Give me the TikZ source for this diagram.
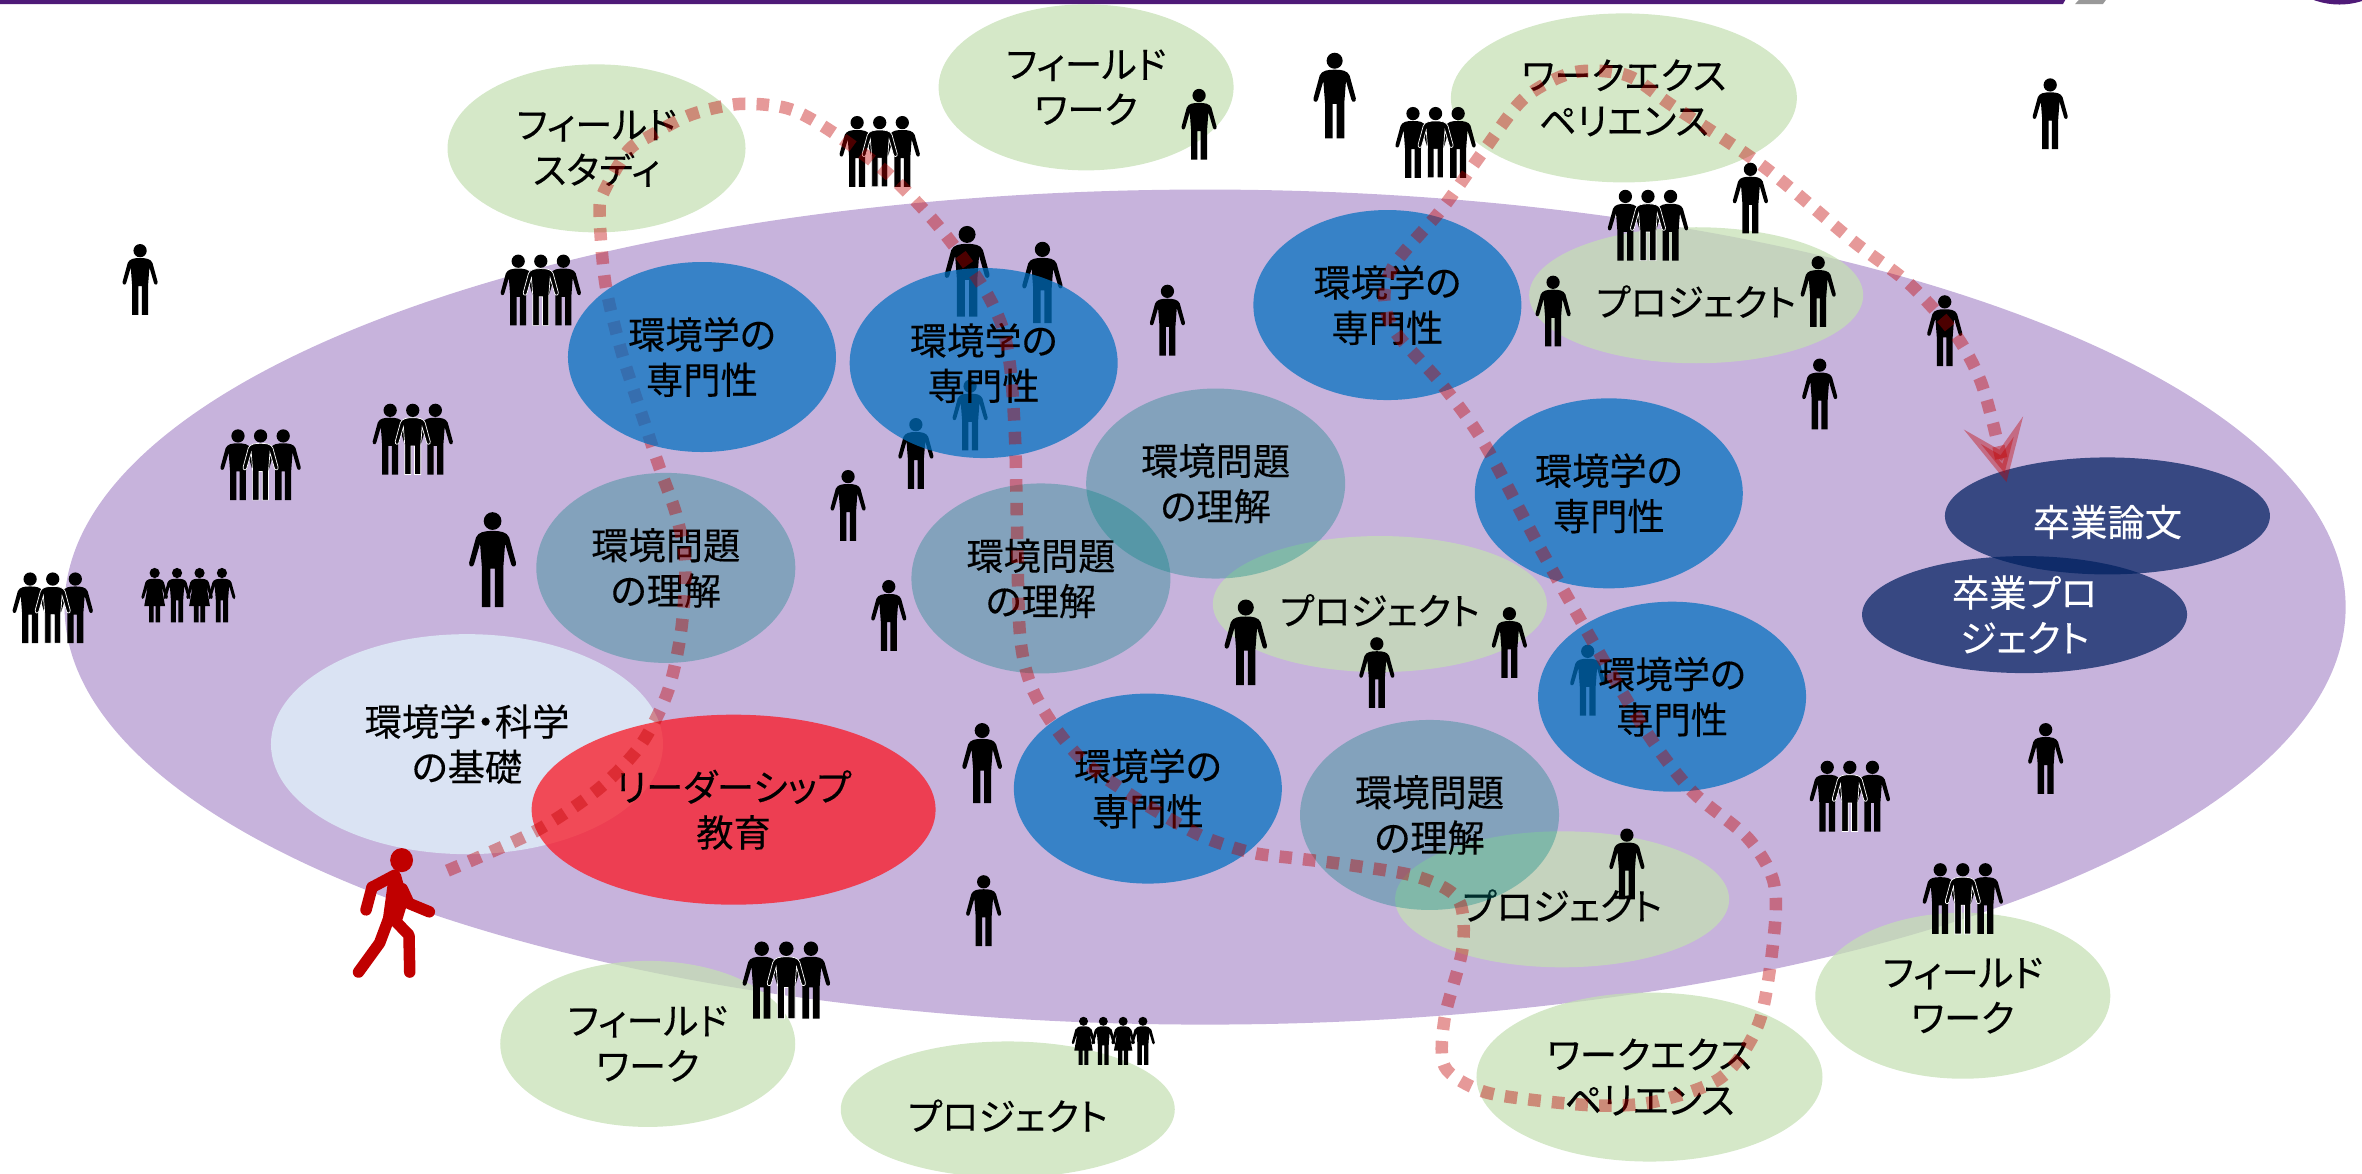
\documentclass[tikz,border=0pt]{standalone}
\usepackage{fontspec}
\setmainfont{Noto Sans CJK JP}[RawFeature={+palt;embolden=0.25}]
\usetikzlibrary{shapes.geometric, arrows.meta}
\definecolor{topbar}{HTML}{4F1A78}
\definecolor{fieldpurple}{HTML}{C7B3DC}
\definecolor{activitygreen}{HTML}{C5E0B4}
\definecolor{expertblue}{HTML}{0070C0}
\definecolor{issueteal}{HTML}{008481}
\definecolor{basicslight}{HTML}{DAE3F3}
\definecolor{leaderred}{HTML}{FA1824}
\definecolor{thesisnavy}{HTML}{002060}
\definecolor{routered}{HTML}{C00000}
\tikzset{
  bubble/.style={ellipse, inner sep=0pt, align=center, text=black, text opacity=1,
    font=\fontsize{10.6pt}{12.9pt}\selectfont, execute at begin node={\rule{0pt}{12.4pt}}},
  greenbubble/.style={bubble, fill=activitygreen, fill opacity=.73},
  fieldwork/.style={greenbubble, minimum width=2.95cm, minimum height=1.66cm},
  workexp/.style={greenbubble, minimum width=3.46cm, minimum height=1.69cm},
  projectbub/.style={greenbubble, minimum width=3.34cm, minimum height=1.36cm},
  expert/.style={bubble, fill=expertblue, fill opacity=.72, minimum width=2.68cm, minimum height=1.9cm},
  issue/.style={bubble, fill=issueteal, fill opacity=.34, minimum width=2.59cm, minimum height=1.9cm},
  thesis/.style={bubble, fill=thesisnavy, fill opacity=.72, text=white, minimum width=3.25cm, minimum height=1.17cm},
  route/.style={line width=.125cm, routered, opacity=.4, dash pattern=on .125cm off .112cm,
    -{Stealth[length=.6cm, width=.6cm, inset=.27cm]}},
  limb/.style={line width=.115cm, routered, line cap=round, line join=round},
  manedge/.style={},
  man/.pic={
    \fill (0,4.4) circle (4.4);
    \path[fill=black, manedge] (0,9.3) .. controls (4,9.3) and (7,9.8) .. (8.2,12.5) -- (11.6,25) .. controls (12,27.2) and (9.6,27.6) .. (9.2,25.8) -- (6.2,15.5) -- (5.3,27.5) -- (5.3,47) -- (1.1,47) -- (1.1,28) -- (-1.1,28) -- (-1.1,47) -- (-5.3,47) -- (-5.3,27.5) -- (-6.2,15.5) -- (-9.2,25.8) .. controls (-9.6,27.6) and (-12,27.2) .. (-11.6,25) -- (-8.2,12.5) .. controls (-7,9.8) and (-4,9.3) .. (0,9.3) -- cycle;
  },
  woman/.pic={
    \fill (0,4.4) circle (4.4);
    \path[fill=black, manedge] (0,9.3) .. controls (4,9.3) and (7,9.8) .. (8,12.5) -- (11.4,25) .. controls (11.8,27) and (9.6,27.4) .. (9.2,25.8) -- (6,16) -- (9,33) -- (4.8,33) -- (4.8,47) -- (0.8,47) -- (0.8,33) -- (-0.8,33) -- (-0.8,47) -- (-4.8,47) -- (-4.8,33) -- (-9,33) -- (-6,16) -- (-9.2,25.8) .. controls (-9.6,27.4) and (-11.8,27) .. (-11.4,25) -- (-8,12.5) .. controls (-7,9.8) and (-4,9.3) .. (0,9.3) -- cycle;
  },
  trio/.pic={
    \pic[transform shape] at (-15,0) {man};
    \pic[transform shape] at (15,0) {man};
    \begin{scope}[manedge/.style={draw=white, line width=.2pt}]
      \pic[transform shape] at (0,0) {man};
    \end{scope}
  },
  family/.pic={
    \pic[transform shape] at (29,0) {man};
    \pic[transform shape] at (-29,0) {woman};
    \pic[transform shape] at (9.7,0) {woman};
    \pic[transform shape] at (-9.7,0) {man};
  },
}

\begin{document}
\begin{tikzpicture}[x=.15064mm, y=-.15064mm]
    \useasboundingbox (0,0) rectangle (1568,779.3);

    % Header strip
    \begin{scope}
        \clip (0,0) rectangle (1568,779.3);
        \fill[topbar] (0,0) -- (1371,0) -- (1369.5,2.7) -- (0,2.7) -- cycle;
        \fill[gray!80] (1380,0) -- (1398,0) -- (1396,2.7) -- (1377.5,2.7) -- cycle;
        \fill[topbar] (1553,-46.7) circle (49.7);
    \end{scope}

    % Big field
    \node[ellipse, inner sep=0pt, fill=fieldpurple, minimum width=22.81cm, minimum height=8.35cm] (field) at (800,403) {};

    % People behind the bubbles
    \pic at (642,150) [scale=1.28] {man};
    \pic at (692,160.5) [scale=1.15] {man};
    \pic at (644,252) {man};
    \pic at (608,277.5) {man};
    \pic at (1054,428) {man};

    % Green bubbles
    \node[fieldwork, minimum width=2.98cm, minimum height=1.68cm] (study) at (396,98.5) {フィールド\\スタディ};
    \node[fieldwork] (worktop) at (721,58) {フィールド\\ワーク};
    \node[workexp] (exptop) at (1078,65) {ワークエクス\\ペリエンス};
    \node[projectbub] (projright) at (1126,196) {プロジェクト};
    \node[projectbub] (projmid) at (916,401) {プロジェクト};
    \node[projectbub] (projlow) at (1037,597) {プロジェクト};
    \node[fieldwork] (workleft) at (430,693) {フィールド\\ワーク};
    \node[projectbub] (projbot) at (669,736.5) {プロジェクト};
    \node[workexp] (expbot) at (1095,715) {ワークエクス\\ペリエンス};
    \node[fieldwork] (workright) at (1303,661) {フィールド\\ワーク};

    % Basics and leadership
    \node[bubble, fill=basicslight, minimum width=3.92cm, minimum height=2.2cm] (basics) at (310,494) {環境学・科学\\の基礎};
    \node[bubble, fill=leaderred, fill opacity=.75, minimum width=4.04cm, minimum height=1.9cm] (leader) at (487,537.5) {リーダーシップ\\教育};

    % Issue bubbles
    \node[issue] (issue1) at (442,377) {環境問題\\の理解};
    \node[issue] (issue2) at (691,384) {環境問題\\の理解};
    \node[issue] (issue3) at (807,321) {環境問題\\の理解};
    \node[issue] (issue4) at (949,541) {環境問題\\の理解};

    % Expert bubbles
    \node[expert] (expert2) at (653,241) {環境学の\\専門性};
    \node[expert] (expert3) at (921,202.5) {環境学の\\専門性};
    \node[expert] (expert4) at (1068,327.5) {環境学の\\専門性};
    \node[expert] (expert5) at (1110,462.5) {環境学の\\専門性};
    \node[expert] (expert6) at (762,523.5) {環境学の\\専門性};

    % Thesis bubbles
    \node[thesis] (paper) at (1399,342.5) {卒業論文};
    \node[thesis] (gradproj) at (1344,408) {卒業プロ\\ジェクト};

    % People in front
    \pic at (93,162) {man};
    \pic at (327,340) [scale=1.34] {man};
    \pic at (563,312) {man};
    \pic at (590,385) {man};
    \pic at (775,189) {man};
    \pic at (796,59) {man};
    \pic at (886,35) [scale=1.21] {man};
    \pic at (827,398) [scale=1.21] {man};
    \pic at (914,423) {man};
    \pic at (1002,403) {man};
    \pic at (1031,183) {man};
    \pic at (1207,170) {man};
    \pic at (1208,238) {man};
    \pic at (1162,108) {man};
    \pic at (1291,196) {man};
    \pic at (1361,52) {man};
    \pic at (1358,480) {man};
    \pic at (652,480) [scale=1.13] {man};
    \pic at (653,581) {man};
    \pic at (1080,550) {man};
    \pic at (584,77) {trio};
    \pic at (359,169) {trio};
    \pic at (173,285) {trio};
    \pic at (274,268) {trio};
    \pic at (35,380) {trio};
    \pic at (1094,126) {trio};
    \pic at (953,71) {trio};
    \pic at (1228,505) {trio};
    \pic at (1303,573) {trio};
    \pic at (522,625) [scale=1.09] {trio};
    \pic at (125,377) [scale=.77] {family};
    \pic at (739,675) [scale=.68] {family};

    % Walker
    \fill[routered] (266.6,571) ellipse (7.6 and 8);
    \draw[limb] (247,589) -- (243,604);
    \draw[limb] (247,589) -- (262,581);
    \draw[limb] (267,590) -- (271.5,599.7) -- (285,605.3);
    \fill[routered] (258,582) -- (266,580) -- (271,598) -- (267,611) -- (254,611) -- cycle;
    \draw[limb] (258,610) -- (252,626) -- (238,645.3);
    \draw[limb] (262,611) -- (271.5,620.7) -- (272,645.3);

    % Route across the field
    \coordinate (routestart) at (297,578);
    \coordinate (routeend) at (1332,320);
    \draw[route] plot[smooth, tension=.5] coordinates {(routestart) (355,552) (397,524) (425,495) (443,460) (452,420) (455,375) (449,342) (438,311) (428,281) (413,235) (402,189) (398,142) (401,127) (417,100) (432,90) (459,76) (491,69) (523,72) (550,86) (588,114) (622,149) (651,188) (665,216) (671,247) (674,295) (675,343) (677,420) (684,454) (699,481) (719,505) (745,524) (772,541) (800,556) (831,566) (862,570) (894,574) (941,582) (968,597) (971,629) (959,676) (959,708) (983,724) (1016,730) (1063,734) (1100,731) (1143,715) (1168,678) (1178,617) (1177,584) (1160,556) (1124,526) (1095,489) (1062,434) (1023,365) (985,294) (957,255) (926,220) (919,197) (926,175) (957,139) (985,100) (1012,65) (1045,48) (1080,50) (1110,70) (1170,110) (1230,160) (1267,188) (1298,222) (1314,251) (1323,281) (routeend)};

    % This one sits over the route
    \node[expert] (expert1) at (466,237) {環境学の\\専門性};
\end{tikzpicture}
\end{document}
